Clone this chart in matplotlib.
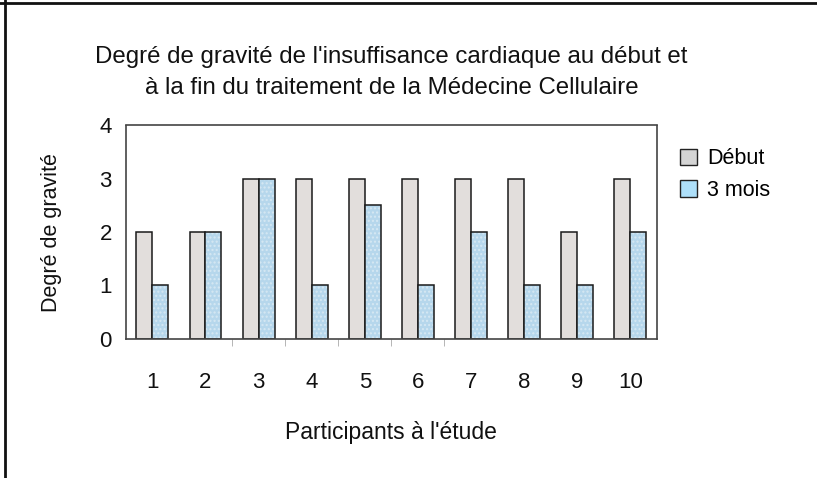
import matplotlib.pyplot as plt
import numpy as np
from matplotlib.lines import Line2D

# Participants and heart-failure severity at start and after 3 months
participants = [1, 2, 3, 4, 5, 6, 7, 8, 9, 10]
debut = [2, 2, 3, 3, 3, 3, 3, 3, 2, 3]
trois_mois = [1, 2, 3, 1, 2.5, 1, 2, 1, 1, 2]

plt.rcParams['font.family'] = ['Liberation Sans', 'DejaVu Sans']

fig = plt.figure(figsize=(8.17, 4.78), dpi=100)
ax = fig.add_axes([0.154, 0.291, 0.65, 0.447])

x = np.array(participants)
w = 0.3
ax.bar(x - w / 2, debut, w, color='#e2dedc', edgecolor='#1a1a1a', linewidth=1.1)
# dotted fill for the 3-month bars, then the outline on top
ax.bar(x + w / 2, trois_mois, w, color='#b6d7ec', edgecolor='#d6e8f3', linewidth=0,
       hatch='....')
ax.bar(x + w / 2, trois_mois, w, fill=False, edgecolor='#1a1a1a', linewidth=1.1)

ax.set_xlim(0.5, 10.5)
ax.set_ylim(0, 4)
ax.set_yticks([0, 1, 2, 3, 4])
ax.set_xticks(x)
ax.tick_params(axis='both', length=0, labelsize=16, colors='#111111')
ax.tick_params(axis='x', pad=24)
ax.tick_params(axis='y', pad=10)
ax.set_xticks([2.5, 3.5, 4.5, 5.5, 6.5], minor=True)
ax.tick_params(axis='x', which='minor', length=5, color='#aaaaaa', direction='out')

for s in ax.spines.values():
    s.set_linestyle((0, (2, 1)))
    s.set_color('#444444')
    s.set_linewidth(1.2)

ax.set_ylabel('Degré de gravité', fontsize=15.5, labelpad=27, color='#111111')
ax.set_xlabel("Participants à l'étude", fontsize=16.5, labelpad=20, color='#111111')
fig.text(0.479, 0.848, "Degré de gravité de l'insuffisance cardiaque au début et\n"
         "à la fin du traitement de la Médecine Cellulaire",
         ha='center', va='center', fontsize=17.3, linespacing=1.55, color='#111111')

handles = [plt.Rectangle((0, 0), 1, 1, facecolor='#d4d4d4', edgecolor='#222222'),
           plt.Rectangle((0, 0), 1, 1, facecolor='#aee0fa', edgecolor='#222222')]
fig.legend(handles, ['Début', '3 mois'], loc='upper left', bbox_to_anchor=(0.808, 0.73),
           frameon=False, fontsize=15.5, handlelength=0.8, handleheight=0.8,
           handletextpad=0.5, labelspacing=0.5)

# outer frame: top and left edges only
fig.add_artist(Line2D([0, 1], [0.994, 0.994], transform=fig.transFigure, color='#111111', lw=2))
fig.add_artist(Line2D([0.006, 0.006], [0, 1], transform=fig.transFigure, color='#111111', lw=2))

fig.savefig('out.png', dpi=100)
